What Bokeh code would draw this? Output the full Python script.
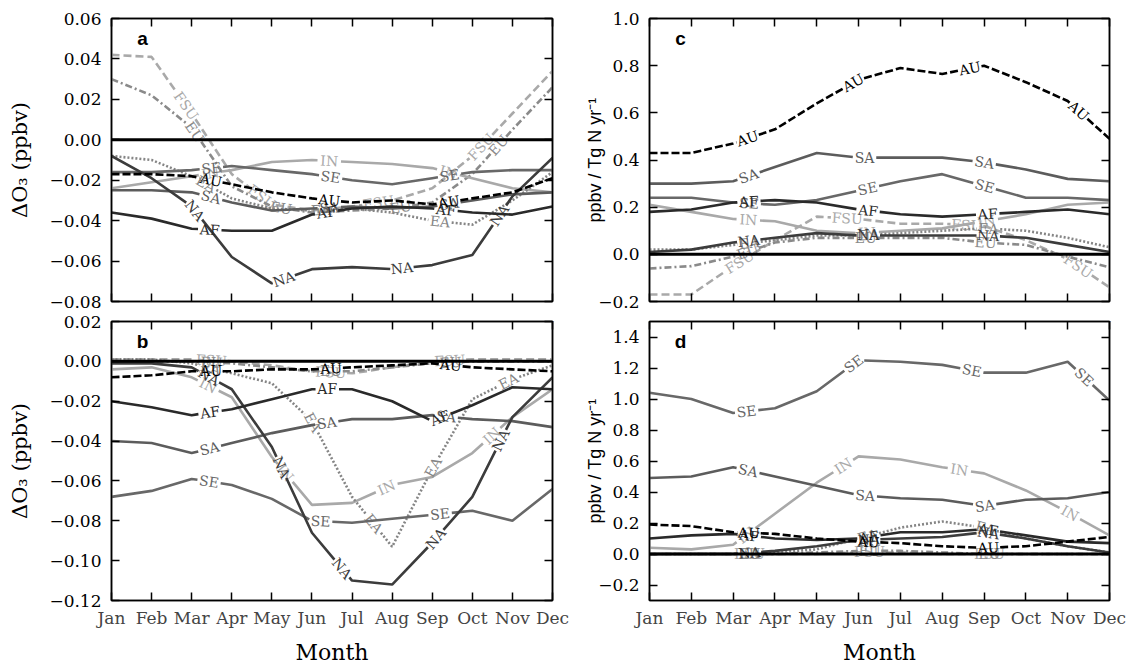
import math
from bokeh.plotting import figure
from bokeh.layouts import row, column
from bokeh.models import (Range1d, FixedTicker, LinearAxis, CustomJSTickFormatter,
                          Label, Span)
from bokeh.core.properties import value
from bokeh.embed import file_html
from bokeh.resources import INLINE

# ---------------- data ----------------
months = ["Jan", "Feb", "Mar", "Apr", "May", "Jun", "Jul", "Aug", "Sep", "Oct", "Nov", "Dec"]
month_num = list(range(1, 13))
regions = ["FSU", "EU", "IN", "EA", "SE", "SA", "NA", "AF", "AU"]

# panel a : delta O3 (ppbv)
NA_a = [-0.008, -0.019, -0.033, -0.058, -0.071, -0.064, -0.063, -0.064, -0.062, -0.057, -0.028, -0.009]
EU_a = [0.030, 0.022, 0.006, -0.023, -0.033, -0.036, -0.035, -0.034, -0.031, -0.017, 0.005, 0.026]
FSU_a = [0.042, 0.041, 0.013, -0.017, -0.032, -0.035, -0.033, -0.030, -0.024, -0.008, 0.013, 0.034]
IN_a = [-0.024, -0.021, -0.018, -0.015, -0.011, -0.010, -0.011, -0.012, -0.014, -0.019, -0.024, -0.026]
EA_a = [-0.008, -0.010, -0.018, -0.029, -0.034, -0.035, -0.034, -0.036, -0.040, -0.042, -0.030, -0.016]
SE_a = [-0.016, -0.016, -0.015, -0.013, -0.015, -0.017, -0.020, -0.022, -0.019, -0.016, -0.015, -0.015]
SA_a = [-0.025, -0.025, -0.026, -0.031, -0.035, -0.034, -0.033, -0.034, -0.033, -0.030, -0.027, -0.026]
AF_a = [-0.036, -0.039, -0.044, -0.045, -0.045, -0.037, -0.034, -0.033, -0.034, -0.036, -0.037, -0.033]
AU_a = [-0.017, -0.017, -0.018, -0.022, -0.026, -0.029, -0.031, -0.030, -0.032, -0.029, -0.026, -0.019]

# panel b : delta O3 (ppbv)
NA_b = [-0.001, -0.001, -0.003, -0.014, -0.043, -0.086, -0.110, -0.112, -0.091, -0.068, -0.028, -0.008]
EU_b = [0.000, 0.000, 0.000, -0.001, -0.003, -0.005, -0.005, -0.003, -0.001, 0.000, 0.000, 0.000]
FSU_b = [0.001, 0.001, 0.001, 0.000, -0.002, -0.005, -0.006, -0.003, 0.000, 0.001, 0.001, 0.001]
IN_b = [-0.004, -0.003, -0.008, -0.018, -0.048, -0.072, -0.071, -0.062, -0.058, -0.046, -0.028, -0.014]
EA_b = [0.001, 0.001, -0.001, -0.006, -0.011, -0.030, -0.068, -0.093, -0.054, -0.019, -0.009, -0.002]
SE_b = [-0.068, -0.065, -0.059, -0.062, -0.069, -0.080, -0.081, -0.079, -0.077, -0.075, -0.080, -0.064]
SA_b = [-0.040, -0.041, -0.046, -0.041, -0.036, -0.032, -0.029, -0.029, -0.027, -0.029, -0.030, -0.033]
AF_b = [-0.020, -0.023, -0.027, -0.024, -0.019, -0.014, -0.014, -0.020, -0.030, -0.022, -0.013, -0.014]
AU_b = [-0.008, -0.007, -0.005, -0.005, -0.004, -0.004, -0.003, -0.002, -0.001, -0.003, -0.004, -0.005]

# panel c : ppbv / Tg N yr-1
NA_c = [0.01, 0.02, 0.05, 0.07, 0.09, 0.08, 0.08, 0.08, 0.08, 0.07, 0.04, 0.01]
EU_c = [-0.06, -0.05, -0.01, 0.05, 0.07, 0.07, 0.07, 0.07, 0.05, 0.04, -0.01, -0.055]
FSU_c = [-0.17, -0.17, -0.05, 0.06, 0.16, 0.15, 0.13, 0.13, 0.12, 0.06, -0.02, -0.14]
IN_c = [0.21, 0.18, 0.15, 0.14, 0.10, 0.09, 0.10, 0.11, 0.14, 0.17, 0.21, 0.22]
EA_c = [0.02, 0.02, 0.04, 0.06, 0.08, 0.08, 0.09, 0.10, 0.11, 0.10, 0.07, 0.03]
SE_c = [0.24, 0.24, 0.22, 0.21, 0.23, 0.27, 0.31, 0.34, 0.29, 0.24, 0.24, 0.23]
SA_c = [0.30, 0.30, 0.31, 0.37, 0.43, 0.41, 0.41, 0.41, 0.39, 0.36, 0.32, 0.31]
AF_c = [0.18, 0.19, 0.22, 0.23, 0.22, 0.19, 0.17, 0.16, 0.17, 0.18, 0.19, 0.17]
AU_c = [0.43, 0.43, 0.47, 0.53, 0.64, 0.74, 0.79, 0.765, 0.80, 0.73, 0.65, 0.49]

# panel d : ppbv / Tg N yr-1
NA_d = [0.00, 0.00, 0.00, 0.02, 0.05, 0.09, 0.10, 0.11, 0.14, 0.10, 0.05, 0.01]
EU_d = [0.00, 0.00, 0.00, 0.00, 0.01, 0.02, 0.02, 0.01, 0.00, 0.00, 0.00, 0.00]
FSU_d = [0.00, 0.00, 0.00, 0.00, 0.00, 0.01, 0.01, 0.00, 0.00, 0.00, 0.00, 0.00]
IN_d = [0.04, 0.03, 0.06, 0.26, 0.46, 0.63, 0.61, 0.56, 0.52, 0.41, 0.27, 0.12]
EA_d = [0.00, 0.00, 0.00, 0.01, 0.03, 0.10, 0.17, 0.21, 0.17, 0.10, 0.05, 0.01]
SE_d = [1.04, 1.00, 0.91, 0.94, 1.05, 1.25, 1.24, 1.22, 1.17, 1.17, 1.24, 0.99]
SA_d = [0.49, 0.50, 0.56, 0.50, 0.44, 0.38, 0.36, 0.35, 0.31, 0.35, 0.36, 0.40]
AF_d = [0.10, 0.12, 0.13, 0.10, 0.09, 0.10, 0.14, 0.14, 0.16, 0.12, 0.08, 0.07]
AU_d = [0.19, 0.18, 0.14, 0.13, 0.10, 0.08, 0.07, 0.05, 0.04, 0.05, 0.08, 0.11]

yticks_a = [-0.08, -0.06, -0.04, -0.02, 0.0, 0.02, 0.04, 0.06]
yticks_b = [-0.12, -0.10, -0.08, -0.06, -0.04, -0.02, 0.0, 0.02]
yticks_c = [-0.2, 0.0, 0.2, 0.4, 0.6, 0.8, 1.0]
yticks_d = [-0.2, 0.0, 0.2, 0.4, 0.6, 0.8, 1.0, 1.2, 1.4]

# ---------------- styles ----------------
STYLE = {
    "NA": ("#3c3c3c", "solid"),
    "EU": ("#8a8a8a", "7 3 2 3"),
    "FSU": ("#a9a9a9", "8 4"),
    "IN": ("#a9a9a9", "solid"),
    "EA": ("#858585", "2 2"),
    "SE": ("#686868", "solid"),
    "SA": ("#5c5c5c", "solid"),
    "AF": ("#2a2a2a", "solid"),
    "AU": ("#000000", "8 3"),
}
SERIF = "DejaVu Serif"
SANS = "Liberation Sans"
LBL_FS = 14


def fmt(dec):
    return CustomJSTickFormatter(code="""
        const d = %d;
        if (Math.abs(tick) < 1e-9) return (0).toFixed(d);
        return (tick < 0 ? '\\u2212' : '') + Math.abs(tick).toFixed(d);
    """ % dec)


month_fmt = CustomJSTickFormatter(args=dict(months=months),
                                  code="return months[Math.round(tick) - 1];")


def labelled_line(xs, ys, xr, yr, W, H, name, first=100.0, step=120.0):
    kx = W / (xr[1] - xr[0])
    ky = H / (yr[1] - yr[0])
    sx = [(x - xr[0]) * kx for x in xs]
    sy = [(y - yr[0]) * ky for y in ys]
    cum = [0.0]
    for i in range(1, len(xs)):
        cum.append(cum[-1] + math.hypot(sx[i] - sx[i - 1], sy[i] - sy[i - 1]))
    total = cum[-1]
    hw = (len(name) * 0.66 * LBL_FS + 5) / 2.0
    centers = []
    s = first
    while s + hw + 12 < total:
        centers.append(s)
        s += step

    def locate(s):
        for i in range(1, len(cum)):
            if s <= cum[i] or i == len(cum) - 1:
                seg = cum[i] - cum[i - 1]
                t = 0.0 if seg == 0 else (s - cum[i - 1]) / seg
                return i, xs[i - 1] + t * (xs[i] - xs[i - 1]), ys[i - 1] + t * (ys[i] - ys[i - 1])

    bounds = []
    a = 0.0
    for c in centers:
        bounds.append((a, c - hw))
        a = c + hw
    bounds.append((a, total))
    px, py = [], []
    for (a, b) in bounds:
        _, xa, ya = locate(a)
        _, xb, yb = locate(b)
        X, Y = [xa], [ya]
        for j in range(len(cum)):
            if a < cum[j] < b:
                X.append(xs[j])
                Y.append(ys[j])
        X.append(xb)
        Y.append(yb)
        px.append(X)
        py.append(Y)
    lx, ly, ang = [], [], []
    for c in centers:
        i, x, y = locate(c)
        an = math.atan2(sy[i] - sy[i - 1], sx[i] - sx[i - 1])
        if an > math.pi / 2:
            an -= math.pi
        if an < -math.pi / 2:
            an += math.pi
        lx.append(x)
        ly.append(y)
        ang.append(an)
    return px, py, lx, ly, ang


def hidden_axis(ticks):
    # tick marks only; labels are not drawn (no colour) and take ~no space
    return LinearAxis(ticker=FixedTicker(ticks=ticks), major_label_text_color=None,
                      major_label_text_font_size="2px", major_label_standoff=0)


def make_panel(series, yr, yticks, dec, letter, left, top, ytitle, W, H):
    if left:
        mbl, mbr = 111, 23
        ttl_font, ttl_size, ttl_standoff = SERIF, "21px", 14
    else:
        mbl, mbr = 74, 20
        ttl_font, ttl_size, ttl_standoff = SANS, "18px", -10
    if top:
        mbt, mbb = 18, 10
    else:
        mbt, mbb = 10, 63
    p = figure(width=mbl + W + mbr, height=mbt + H + mbb,
               x_range=Range1d(1, 12), y_range=Range1d(*yr),
               output_backend="svg", toolbar_location=None,
               min_border_left=mbl, min_border_right=mbr,
               min_border_top=mbt, min_border_bottom=mbb,
               x_axis_location=None)
    p.grid.visible = False
    p.outline_line_color = "black"
    p.outline_line_width = 1.5
    p.background_fill_color = "white"
    p.border_fill_color = "white"

    if top:
        p.add_layout(hidden_axis(month_num), "below")
    else:
        xa = LinearAxis(ticker=FixedTicker(ticks=month_num), formatter=month_fmt)
        xa.major_label_text_font = SERIF
        xa.major_label_text_font_size = "17px"
        xa.major_label_standoff = 7
        xa.axis_label = "Month"
        xa.axis_label_text_font = SERIF
        xa.axis_label_text_font_size = "22px"
        xa.axis_label_text_font_style = "normal"
        xa.axis_label_standoff = 9
        p.add_layout(xa, "below")

    ya = p.yaxis[0]
    ya.ticker = FixedTicker(ticks=yticks)
    ya.formatter = fmt(dec)
    ya.major_label_text_font = SERIF
    ya.major_label_text_font_size = "17px"
    ya.major_label_standoff = 10
    ya.axis_label = ytitle
    ya.axis_label_text_font = ttl_font
    ya.axis_label_text_font_size = ttl_size
    ya.axis_label_text_font_style = "normal"
    ya.axis_label_standoff = ttl_standoff

    p.add_layout(hidden_axis(month_num), "above")
    p.add_layout(hidden_axis(yticks), "right")
    for ax in p.xaxis + p.yaxis:
        ax.major_tick_in = 8
        ax.major_tick_out = 0
        ax.minor_tick_line_color = None
        ax.axis_line_width = 1.5
        ax.major_tick_line_width = 1.5
        ax.axis_label_text_color = "black"
    for ax in [p.xaxis[0] if not top else None, ya]:
        if ax is not None:
            ax.major_label_text_color = "black"

    p.add_layout(Span(location=0, dimension="width", line_color="black", line_width=3))

    xr = (1, 12)
    for name in regions:
        ys = series[name]
        color, dash = STYLE[name]
        px, py, lx, ly, ang = labelled_line(month_num, ys, xr, yr, W, H, name)
        p.multi_line(xs=px, ys=py, line_color=color, line_width=2.6, line_dash=dash)
        if lx:
            p.text(x=lx, y=ly, text=[name] * len(lx), angle=ang, angle_units="rad",
                   text_font=value(SERIF), text_font_size="%dpx" % LBL_FS,
                   text_color=color, text_align="center", text_baseline="middle")

    # panel letter (offset from frame's top-left corner, in pixels)
    ox, oy = (31, 20)
    p.add_layout(Label(x=xr[0] + ox * (xr[1] - xr[0]) / W,
                       y=yr[1] - oy * (yr[1] - yr[0]) / H,
                       text=letter, text_font=SANS, text_font_style="bold",
                       text_font_size="19px", text_align="center", text_baseline="middle",
                       text_color="black"))
    return p


ser_a = dict(NA=NA_a, EU=EU_a, FSU=FSU_a, IN=IN_a, EA=EA_a, SE=SE_a, SA=SA_a, AF=AF_a, AU=AU_a)
ser_b = dict(NA=NA_b, EU=EU_b, FSU=FSU_b, IN=IN_b, EA=EA_b, SE=SE_b, SA=SA_b, AF=AF_b, AU=AU_b)
ser_c = dict(NA=NA_c, EU=EU_c, FSU=FSU_c, IN=IN_c, EA=EA_c, SE=SE_c, SA=SA_c, AF=AF_c, AU=AU_c)
ser_d = dict(NA=NA_d, EU=EU_d, FSU=FSU_d, IN=IN_d, EA=EA_d, SE=SE_d, SA=SA_d, AF=AF_d, AU=AU_d)

t_left = "\u0394O\u2083 (ppbv)"
t_right = "ppbv / Tg N yr\u207b\u00b9"

pa = make_panel(ser_a, (-0.08, 0.06), yticks_a, 2, "a", True, True, t_left, 441, 283)
pb = make_panel(ser_b, (-0.12, 0.02), yticks_b, 2, "b", True, False, t_left, 441, 283)
pc = make_panel(ser_c, (-0.2, 1.0), yticks_c, 1, "c", False, True, t_right, 460, 283)
pd = make_panel(ser_d, (-0.3, 1.5), yticks_d, 1, "d", False, False, t_right, 460, 283)

layout = column(row(pa, pc), row(pb, pd))
open("out.html", "w").write(file_html(layout, INLINE))
